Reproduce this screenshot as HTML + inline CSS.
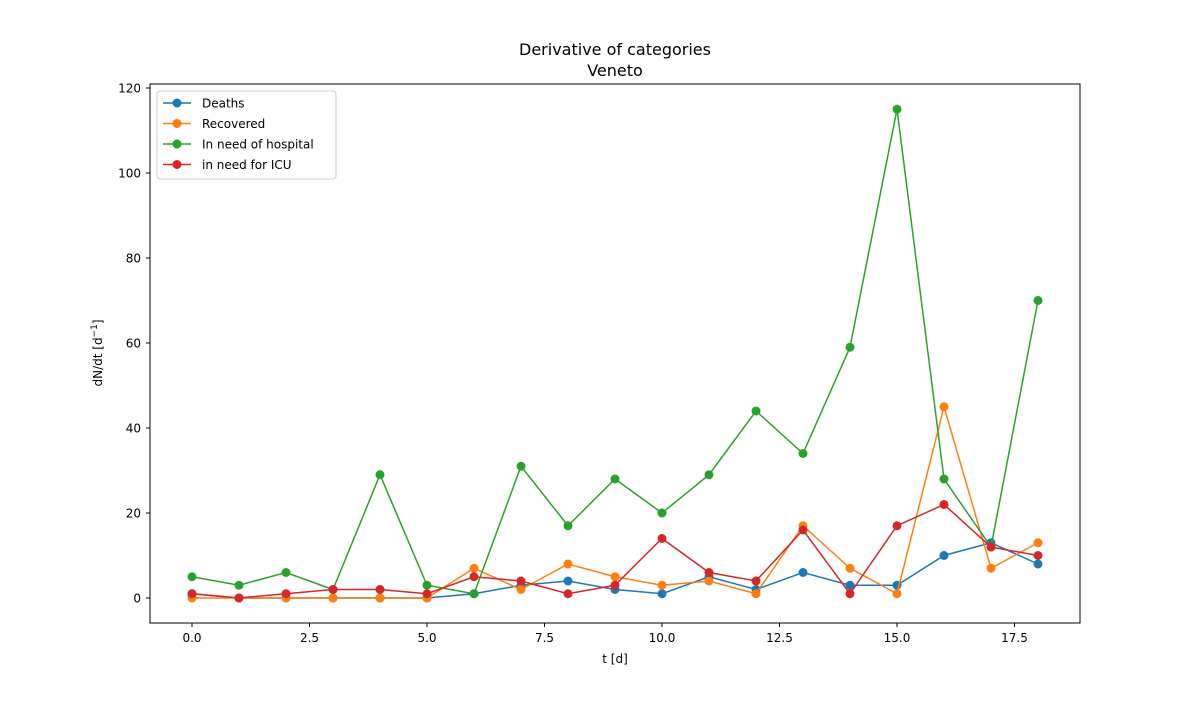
<!DOCTYPE html>
<html><head><meta charset="utf-8"><style>
body{margin:0;background:#fff;font-family:"Liberation Sans","DejaVu Sans",sans-serif}
svg text{font-family:"DejaVu Sans","Liberation Sans",sans-serif;font-size:12px;fill:#000}
</style></head><body>
<svg id="chart" width="1200" height="700">
<rect x="0" y="0" width="1200" height="700" fill="#fff"/>
<text x="615" y="55" text-anchor="middle" style="font-size:16px">Derivative of categories</text>
<text x="615" y="76" text-anchor="middle" style="font-size:16px">Veneto</text>
<g id="axes"></g>
<g id="series"></g>
<rect x="150" y="84" width="930" height="539" fill="none" stroke="#000" stroke-width="1"/>
<text x="615" y="663" text-anchor="middle">t [d]</text>
<text transform="translate(102,353) rotate(-90)" text-anchor="middle">dN/dt [d<tspan dy="-5" style="font-size:9px">−1</tspan><tspan dy="5">]</tspan></text>
<g id="legend"></g>
</svg>
<script>
const tValues=[0,1,2,3,4,5,6,7,8,9,10,11,12,13,14,15,16,17,18];
const deaths=[1,0,0,0,0,0,1,3,4,2,1,5,2,6,3,3,10,13,8];
const recovered=[0,0,0,0,0,0,7,2,8,5,3,4,1,17,7,1,45,7,13];
const hospital=[5,3,6,2,29,3,1,31,17,28,20,29,44,34,59,115,28,12,70];
const icu=[1,0,1,2,2,1,5,4,1,3,14,6,4,16,1,17,22,12,10];
const seriesNames=["Deaths","Recovered","In need of hospital","in need for ICU"];
const xTicks=[0,2.5,5,7.5,10,12.5,15,17.5];
const xTickLabels=["0.0","2.5","5.0","7.5","10.0","12.5","15.0","17.5"];
const yTicks=[0,20,40,60,80,100,120];
const colors=["#1f77b4","#ff7f0e","#2ca02c","#d62728"];
const NS="http://www.w3.org/2000/svg";
const X=v=>192+v*47;
const Y=v=>598-v*4.25;
function mk(t,a,p){const e=document.createElementNS(NS,t);for(const k in a)e.setAttribute(k,a[k]);p.appendChild(e);return e;}
const axes=document.getElementById('axes');
xTicks.forEach((v,i)=>{
 const l=mk('line',{x1:X(v),x2:X(v),y1:623,y2:627,stroke:'#000'},axes);
 
 
 const t=mk('text',{x:X(v),y:642,'text-anchor':'middle'},axes);t.textContent=xTickLabels[i];
 
 
});
yTicks.forEach(v=>{
 const l=mk('line',{x1:146,x2:150,y1:Y(v),y2:Y(v),stroke:'#000'},axes);
 
 
 const t=mk('text',{x:141,y:Y(v)+4.5,'text-anchor':'end'},axes);t.textContent=v;
 
 
});
const sg=document.getElementById('series');
[deaths,recovered,hospital,icu].forEach((d,si)=>{
 const g=mk('g',{},sg);
 
 
 mk('polyline',{points:d.map((v,i)=>X(tValues[i])+','+Y(v)).join(' '),fill:'none',stroke:colors[si],'stroke-width':1.5},g);
 d.forEach((v,i)=>{
  const c=mk('circle',{cx:X(tValues[i]),cy:Y(v),r:4.5,fill:colors[si]},g);
  
  
 });
});
const lg=document.getElementById('legend');
mk('rect',{x:157,y:91,width:179,height:88,rx:3,fill:'#fff',stroke:'#ccc'},lg);
seriesNames.forEach((n,i)=>{
 const y=103+i*20.5;
 const e=mk('g',{},lg);
 
 
 mk('line',{x1:163,x2:191,y1:y,y2:y,stroke:colors[i],'stroke-width':1.5},e);
 mk('circle',{cx:177,cy:y,r:4.5,fill:colors[i]},e);
 const t=mk('text',{x:202,y:y+4.5},e);t.textContent=n;
});
</script>
</body></html>
